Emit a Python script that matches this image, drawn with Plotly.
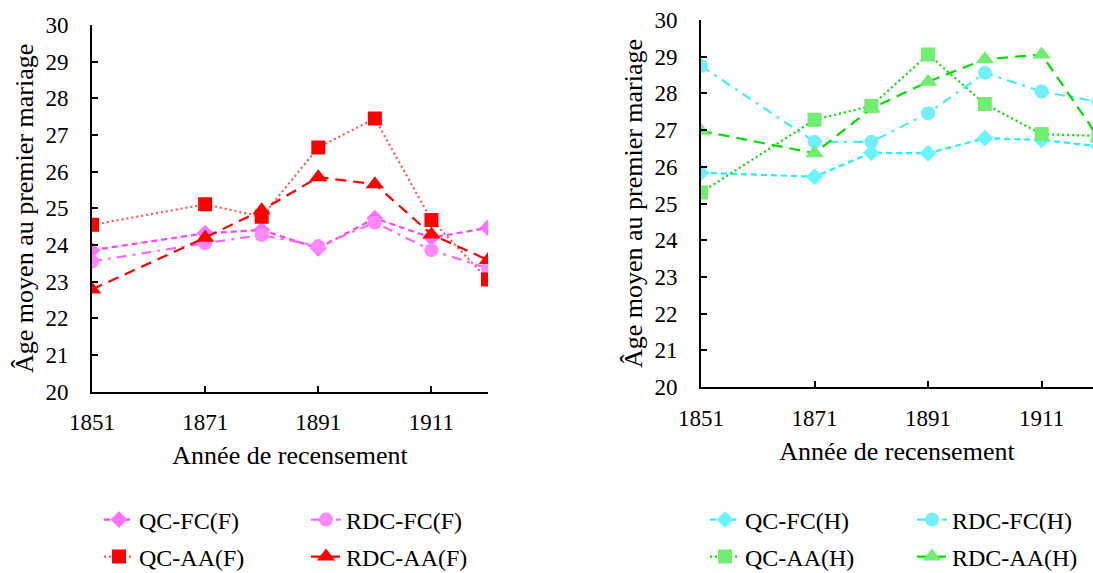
import plotly.graph_objects as go

years = [1851, 1871, 1881, 1891, 1901, 1911, 1921]
x_ticks = [1851, 1871, 1891, 1911]
y_ticks = [20, 21, 22, 23, 24, 25, 26, 27, 28, 29, 30]

# Femmes (F)
qc_fc_f = [23.86, 24.32, 24.41, 23.91, 24.73, 24.20, 24.47]
rdc_fc_f = [23.55, 24.05, 24.27, 23.97, 24.61, 23.86, 23.36]
qc_aa_f = [24.55, 25.11, 24.77, 26.66, 27.45, 24.68, 23.06]
rdc_aa_f = [22.79, 24.20, 24.95, 25.85, 25.66, 24.29, 23.59]

# Hommes (H)
qc_fc_h = [25.84, 25.73, 26.38, 26.37, 26.78, 26.73, 26.56]
rdc_fc_h = [28.75, 26.68, 26.68, 27.46, 28.56, 28.05, 27.77]
qc_aa_h = [25.30, 27.28, 27.66, 29.06, 27.71, 26.89, 26.84]
rdc_aa_h = [26.98, 26.37, 27.59, 28.32, 28.93, 29.06, 26.80]

FONT = "Liberation Serif, Times New Roman, serif"
W, H = 1093, 573

fig = go.Figure()

def add(name, y, xa, ya, lcolor, mcolor, dash, symbol, msize, legend):
    fig.add_trace(go.Scatter(
        x=years, y=y, name=name, mode="lines+markers",
        xaxis=xa, yaxis=ya, legend=legend,
        line=dict(color=lcolor, width=2.2, dash=dash),
        marker=dict(color=mcolor, symbol=symbol, size=msize, line=dict(width=0)),
    ))

# Left chart (F)
add("QC-FC(F)", qc_fc_f, "x", "y", "#FF40FF", "#FF70FF", "6px,4px", "diamond", 13, "legend")
add("RDC-FC(F)", rdc_fc_f, "x", "y", "#FF66FF", "#FF88FF", "10px,6px,3px,6px", "circle", 14, "legend")
add("QC-AA(F)", qc_aa_f, "x", "y", "#FF5555", "#FF0000", "2px,3px", "square", 14, "legend2")
add("RDC-AA(F)", rdc_aa_f, "x", "y", "#FF0000", "#FF0000", "11px,7px", "triangle-up", 16, "legend2")

# Right chart (H)
add("QC-FC(H)", qc_fc_h, "x2", "y2", "#22F0FF", "#66F6FF", "6px,4px", "diamond", 13, "legend3")
add("RDC-FC(H)", rdc_fc_h, "x2", "y2", "#44EEFF", "#70F0FF", "10px,6px,3px,6px", "circle", 14, "legend3")
add("QC-AA(H)", qc_aa_h, "x2", "y2", "#00E000", "#70EE70", "2px,3px", "square", 14, "legend4")
add("RDC-AA(H)", rdc_aa_h, "x2", "y2", "#00E000", "#70EE70", "11px,7px", "triangle-up", 16, "legend4")

tick_font = dict(family=FONT, size=23, color="black")
title_font = dict(family=FONT, size=26, color="black")

def xax(domain, rng, anchor):
    return dict(
        domain=domain, range=rng, anchor=anchor,
        tickmode="array", tickvals=x_ticks, ticktext=[str(v) for v in x_ticks],
        ticks="inside", ticklen=6, tickwidth=1.5, tickcolor="black",
        showline=True, linecolor="black", linewidth=2,
        showgrid=False, zeroline=False,
        tickfont=tick_font, ticklabelstandoff=9,
        title=dict(text="Année de recensement", font=title_font, standoff=12),
        automargin=False, fixedrange=True,
    )

def yax(domain, anchor):
    return dict(
        domain=domain, range=[20, 30], anchor=anchor,
        tickmode="array", tickvals=y_ticks, ticktext=[str(v) for v in y_ticks],
        ticks="inside", ticklen=6, tickwidth=1.5, tickcolor="black",
        showline=True, linecolor="black", linewidth=2,
        showgrid=False, zeroline=False,
        tickfont=tick_font, ticklabelstandoff=17,
        title=dict(text="Âge moyen au premier mariage", font=title_font, standoff=4),
        automargin=False, fixedrange=True,
    )

def leg(x, y):
    return dict(
        orientation="h", x=x, y=y, xanchor="left", yanchor="middle",
        entrywidth=162, entrywidthmode="pixels",
        font=dict(family=FONT, size=24, color="black"),
        bgcolor="rgba(0,0,0,0)", borderwidth=0, itemwidth=30,
    )

fig.update_layout(
    width=W, height=H,
    margin=dict(l=0, r=0, t=0, b=0, autoexpand=False),
    paper_bgcolor="white", plot_bgcolor="white",
    font=dict(family=FONT, color="black"),
    showlegend=True,
    xaxis=xax([92 / W, 488 / W], [1851, 1921], "y"),
    yaxis=yax([(H - 391.7) / H, (H - 25) / H], "x"),
    xaxis2=xax([701 / W, 1.0], [1851, 1920.04], "y2"),
    yaxis2=yax([(H - 387) / H, (H - 20) / H], "x2"),
    legend=leg(99 / W, 1 - 520 / H),
    legend2=leg(99 / W, 1 - 557 / H),
    legend3=leg(705 / W, 1 - 520 / H),
    legend4=leg(705 / W, 1 - 557 / H),
)

fig.write_html("out.html")
